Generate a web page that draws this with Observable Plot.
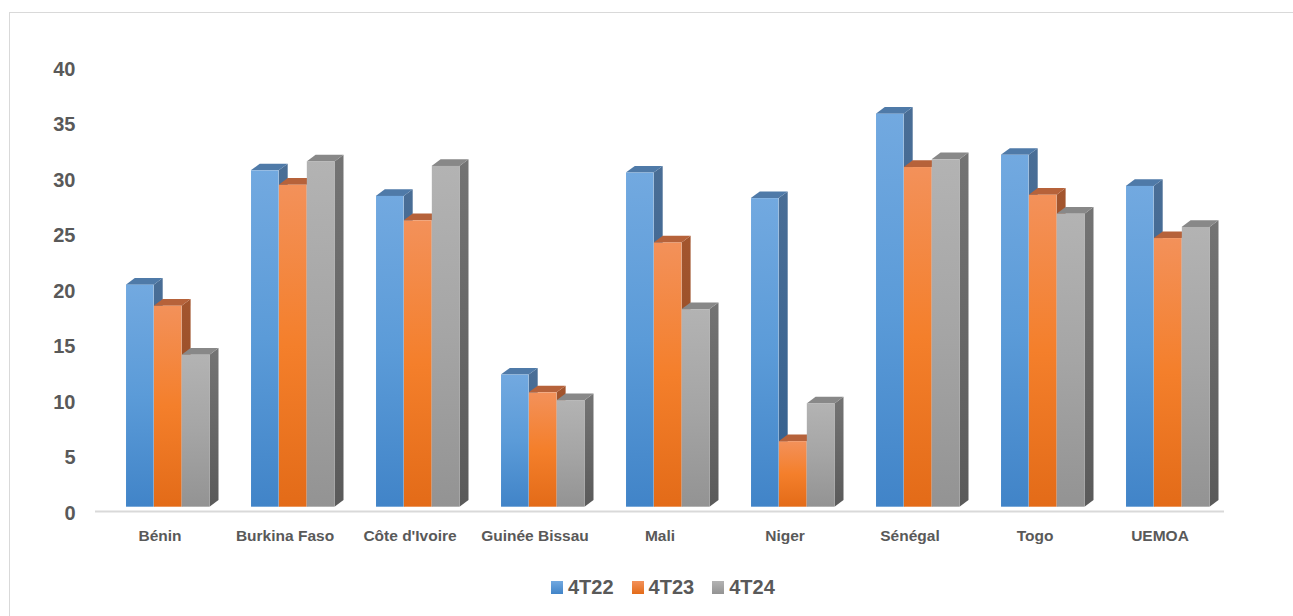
<!DOCTYPE html>
<html><head><meta charset="utf-8">
<script src="https://cdn.jsdelivr.net/npm/d3@7"></script>
<script src="https://cdn.jsdelivr.net/npm/@observablehq/plot@0.6"></script>
<style>
html,body{margin:0;padding:0;background:#fff;overflow:hidden;width:1293px;height:616px;}
#frame{position:absolute;left:9px;top:12px;width:1400px;height:700px;border:1.5px solid #D9D9D9;box-sizing:border-box;}
#chart{position:absolute;left:0;top:0;}
#legend{position:absolute;left:551px;top:576px;display:flex;align-items:center;font:bold 20px "Liberation Sans",Arial,sans-serif;color:#595959;}
#legend .item{display:flex;align-items:center;margin-right:18px;}
#legend .sw{width:12px;height:13px;margin-right:5px;}
</style></head><body>
<svg width="0" height="0" style="position:absolute">
<defs>
<linearGradient id="fBlue" x1="0" y1="0" x2="0" y2="1"><stop offset="0" stop-color="#72A9E0"/><stop offset="0.5" stop-color="#5B9BD8"/><stop offset="1" stop-color="#4184C8"/></linearGradient>
<linearGradient id="fOrange" x1="0" y1="0" x2="0" y2="1"><stop offset="0" stop-color="#F3915A"/><stop offset="0.5" stop-color="#F47F2B"/><stop offset="1" stop-color="#E36B18"/></linearGradient>
<linearGradient id="fGray" x1="0" y1="0" x2="0" y2="1"><stop offset="0" stop-color="#B3B3B3"/><stop offset="0.5" stop-color="#A5A5A5"/><stop offset="1" stop-color="#939393"/></linearGradient>
<linearGradient id="sBlue" x1="0" y1="0" x2="0" y2="1"><stop offset="0" stop-color="#4A6E96"/><stop offset="1" stop-color="#33608F"/></linearGradient>
<linearGradient id="sOrange" x1="0" y1="0" x2="0" y2="1"><stop offset="0" stop-color="#A3552E"/><stop offset="1" stop-color="#8E4A21"/></linearGradient>
<linearGradient id="sGray" x1="0" y1="0" x2="0" y2="1"><stop offset="0" stop-color="#747474"/><stop offset="1" stop-color="#5A5A5A"/></linearGradient>
</defs></svg>
<div id="frame"></div>
<div id="chart"></div>
<div id="legend"></div>
<script>
// ---- data ----
const categories = ["Bénin","Burkina Faso","Côte d'Ivoire","Guinée Bissau","Mali","Niger","Sénégal","Togo","UEMOA"];
const seriesNames = ["4T22","4T23","4T24"];
const v4T22 = [20.0,30.3,28.0,11.9,30.1,27.8,35.4,31.7,28.9];
const v4T23 = [18.1,29.0,25.8,10.3,23.8,5.9,30.6,28.1,24.2];
const v4T24 = [13.7,31.1,30.7,9.6,17.8,9.3,31.3,26.4,25.2];
const yTicks = [0,5,10,15,20,25,30,35,40];

// ---- styles ----
const frontFill = ["url(#fBlue)","url(#fOrange)","url(#fGray)"];
const sideFill = ["url(#sBlue)","url(#sOrange)","url(#sGray)"];
const topFill = ["#4F7AA8","#B6623A","#888888"];
const legendBg = ["linear-gradient(#72A9E0,#4184C8)","linear-gradient(#F3915A,#E36B18)","linear-gradient(#B3B3B3,#939393)"];

const seriesValues = [v4T22, v4T23, v4T24];
const rows = [];
categories.forEach((c, ci) => seriesNames.forEach((s, si) => rows.push({cat: c, series: s, si, value: seriesValues[si][ci]})));

const W = 1293, H = 560, ML = 95, MR = 69, MT = 69, MB = 47;
const BW = 27.9, OFF = -33.7, DX = 9, DY = 6.7, LIFT = 6.3;
const step = (W - ML - MR) / categories.length;

function faces3d(index, scales) {
  const {x, y} = scales;
  const ns = "http://www.w3.org/2000/svg";
  const g = document.createElementNS(ns, "g");
  const half = x.bandwidth() / 2;
  for (const d of rows) {
    const x0 = x(d.cat) + half + OFF + BW * d.si, x1 = x0 + BW;
    const yb = y(0) - LIFT, yt = y(d.value) - LIFT;
    const side = document.createElementNS(ns, "path");
    side.setAttribute("d", `M${x1},${yb}L${x1},${yt}L${x1+DX},${yt-DY}L${x1+DX},${yb-DY}Z`);
    side.setAttribute("fill", sideFill[d.si]);
    g.appendChild(side);
    const top = document.createElementNS(ns, "path");
    top.setAttribute("d", `M${x0},${yt}L${x1},${yt}L${x1+DX},${yt-DY}L${x0+DX},${yt-DY}Z`);
    top.setAttribute("fill", topFill[d.si]);
    g.appendChild(top);
  }
  return g;
}

const fronts = seriesNames.map((s, si) => {
  const insetLeft = step / 2 + OFF + BW * si;
  return Plot.barY(rows.filter(r => r.si === si), {
    x: "cat", y: "value", fill: frontFill[si],
    insetLeft, insetRight: step - insetLeft - BW, dy: -LIFT
  });
});

const chart = Plot.plot({
  width: W, height: H,
  marginLeft: ML, marginRight: MR, marginTop: MT, marginBottom: MB,
  style: {fontFamily: '"Liberation Sans", Arial, sans-serif', fontWeight: "bold", color: "#595959", background: "transparent"},
  x: {domain: categories, padding: 0, label: null},
  y: {domain: [0, 40], label: null},
  marks: [
    Plot.ruleY([0], {stroke: "#D9D9D9", strokeWidth: 2, dy: -2}),
    faces3d,
    ...fronts,
    Plot.axisY(yTicks, {tickSize: 0, tickPadding: 20, fontSize: 20, label: null}),
    Plot.axisX({tickSize: 0, tickPadding: 16, fontSize: 15.5, label: null})
  ]
});
document.getElementById("chart").appendChild(chart);

const legend = document.getElementById("legend");
seriesNames.forEach((s, i) => {
  const it = document.createElement("div");
  it.className = "item";
  const sw = document.createElement("div");
  sw.className = "sw";
  sw.style.background = legendBg[i];
  const t = document.createElement("span");
  t.textContent = s;
  it.appendChild(sw); it.appendChild(t);
  legend.appendChild(it);
});
</script>
</body></html>
